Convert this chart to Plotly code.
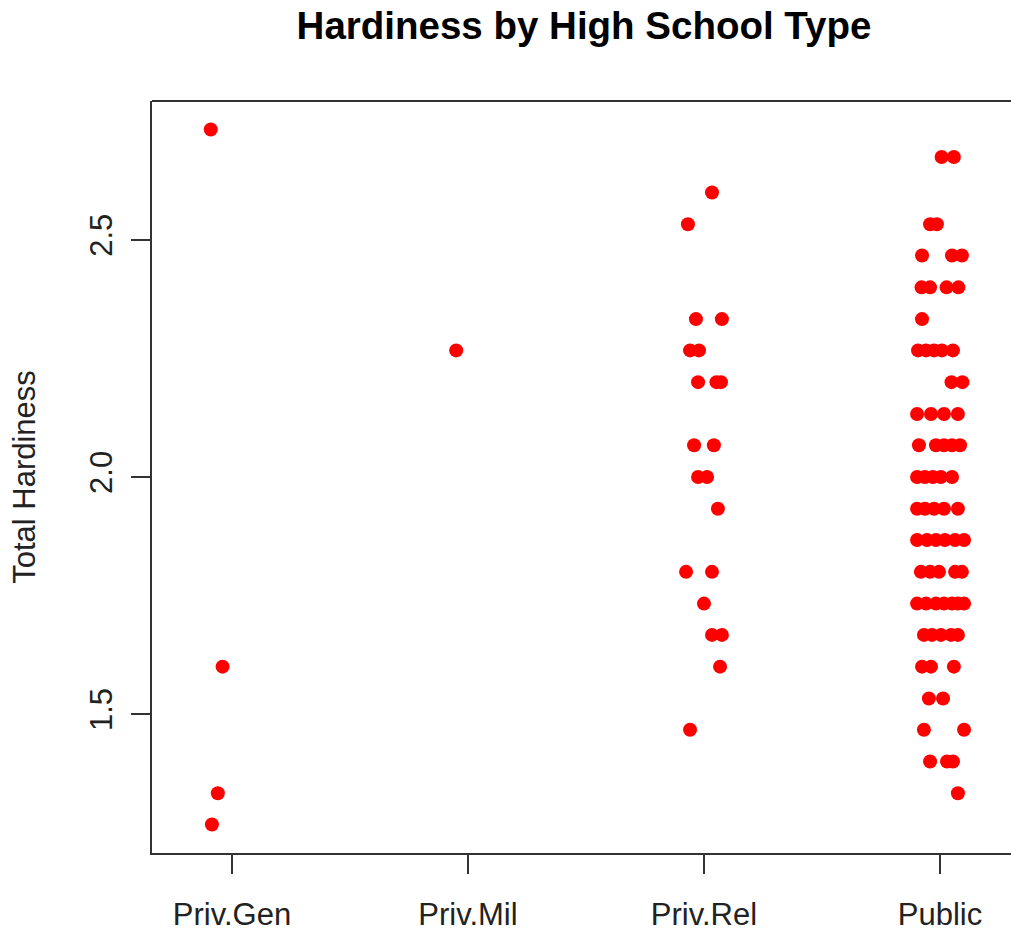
import plotly.graph_objects as go

# School types along the x axis
school_types = ["Priv.Gen", "Priv.Mil", "Priv.Rel", "Public"]

# Total hardiness scores per school type, with the horizontal jitter
# (in category units) applied to each point of the strip chart
gen_hardiness = [2.733, 1.600, 1.333, 1.267]
gen_jitter = [-0.090, -0.040, -0.060, -0.085]

mil_hardiness = [2.267]
mil_jitter = [-0.050]

rel_hardiness = [
    2.600,
    2.533,
    2.333, 2.333,
    2.267, 2.267,
    2.200, 2.200, 2.200,
    2.067, 2.067,
    2.000, 2.000,
    1.933,
    1.800, 1.800,
    1.733,
    1.667, 1.667,
    1.600,
    1.467,
]
rel_jitter = [
    0.034,
    -0.068,
    -0.034, 0.076,
    -0.059, -0.021,
    -0.025, 0.053, 0.072,
    -0.042, 0.042,
    -0.025, 0.013,
    0.059,
    -0.076, 0.034,
    0.000,
    0.034, 0.076,
    0.068,
    -0.059,
]

pub_hardiness = [
    2.675, 2.675,
    2.533, 2.533,
    2.467, 2.467, 2.467,
    2.400, 2.400, 2.400, 2.400,
    2.333,
    2.267, 2.267, 2.267, 2.267, 2.267,
    2.200, 2.200,
    2.133, 2.133, 2.133, 2.133,
    2.067, 2.067, 2.067, 2.067, 2.067,
    2.000, 2.000, 2.000, 2.000, 2.000,
    1.933, 1.933, 1.933, 1.933, 1.933,
    1.867, 1.867, 1.867, 1.867, 1.867, 1.867,
    1.800, 1.800, 1.800, 1.800, 1.800,
    1.733, 1.733, 1.733, 1.733, 1.733, 1.733, 1.733,
    1.667, 1.667, 1.667, 1.667, 1.667,
    1.600, 1.600, 1.600,
    1.533, 1.533,
    1.467, 1.467,
    1.400, 1.400, 1.400,
    1.333,
]
pub_jitter = [
    0.007, 0.059,
    -0.042, -0.013,
    -0.076, 0.051, 0.093,
    -0.078, -0.042, 0.028, 0.078,
    -0.076,
    -0.093, -0.059, -0.025, 0.008, 0.055,
    0.049, 0.095,
    -0.097, -0.038, 0.017, 0.076,
    -0.089, -0.017, 0.017, 0.051, 0.085,
    -0.097, -0.064, -0.030, 0.004, 0.051,
    -0.097, -0.064, -0.025, 0.017, 0.076,
    -0.097, -0.055, -0.017, 0.021, 0.064, 0.102,
    -0.081, -0.042, -0.004, 0.064, 0.093,
    -0.097, -0.059, -0.017, 0.017, 0.051, 0.076, 0.102,
    -0.068, -0.034, 0.004, 0.047, 0.076,
    -0.076, -0.038, 0.059,
    -0.047, 0.013,
    -0.068, 0.102,
    -0.042, 0.030, 0.055,
    0.076,
]

y_ticks = [1.5, 2.0, 2.5]
y_tick_text = ["1.5", "2.0", "2.5"]

groups = [
    (gen_hardiness, gen_jitter),
    (mil_hardiness, mil_jitter),
    (rel_hardiness, rel_jitter),
    (pub_hardiness, pub_jitter),
]

xs, ys = [], []
for idx, (vals, jit) in enumerate(groups, start=1):
    for v, j in zip(vals, jit):
        xs.append(idx + j)
        ys.append(v)

FONT = "Liberation Sans, Arial, sans-serif"
LINE = "#333333"

fig = go.Figure(
    go.Scatter(
        x=xs,
        y=ys,
        mode="markers",
        marker=dict(color="#ff0000", size=14, line=dict(width=0)),
        showlegend=False,
        hoverinfo="x+y",
    )
)

fig.update_layout(
    width=1011,
    height=931,
    margin=dict(l=152, r=0, t=101, b=78),
    paper_bgcolor="white",
    plot_bgcolor="white",
    font=dict(family=FONT, size=31, color="#222222"),
    title=dict(
        text="<b>Hardiness by High School Type</b>",
        font=dict(family=FONT, size=38.5, color="#000000"),
        x=584 / 1011,
        xanchor="center",
        xref="container",
        y=1 - 26 / 931,
        yanchor="middle",
        yref="container",
    ),
    xaxis=dict(
        range=[0.661, 4.301],
        tickmode="array",
        tickvals=[1, 2, 3, 4],
        ticktext=school_types,
        ticks="outside",
        ticklen=19,
        tickwidth=2,
        tickcolor=LINE,
        showline=True,
        linecolor=LINE,
        linewidth=2,
        showgrid=False,
        zeroline=False,
        ticklabelstandoff=14,
    ),
    yaxis=dict(
        range=[1.207, 2.793],
        tickmode="array",
        tickvals=y_ticks,
        ticktext=y_tick_text,
        tickangle=-90,
        ticks="outside",
        ticklen=19,
        tickwidth=2,
        tickcolor=LINE,
        showline=True,
        linecolor=LINE,
        linewidth=2,
        showgrid=False,
        zeroline=False,
        ticklabelstandoff=7,
        title=dict(text="Total Hardiness", standoff=39, font=dict(size=31)),
    ),
    shapes=[
        dict(
            type="line",
            xref="paper",
            yref="paper",
            x0=0,
            x1=1,
            y0=1,
            y1=1,
            line=dict(color=LINE, width=2),
        )
    ],
)

fig.write_html("out.html")
